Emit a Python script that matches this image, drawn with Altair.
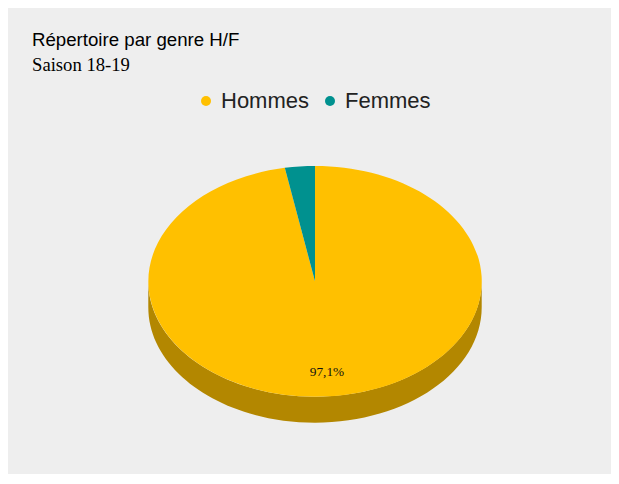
import altair as alt
import pandas as pd

# ---- data ----
title_text = ["Répertoire par genre H/F"]
subtitle_text = ["Saison 18-19"]
genres = ["Hommes", "Femmes"]
shares = [97.1, 2.9]
slice_labels = ["97,1%", ""]
top_colors = ["#FFC000", "#00918F"]
side_colors = ["#B38700", "#006664"]

# ---- layout / style constants ----
W, H = 603, 466
CX, CY = 307, 273.3      # pie centre (px)
RX = 166.7               # horizontal radius (px)
K = 0.692                # vertical / horizontal radius ratio (tilt)
D = 0.156                # side depth relative to RX
LABEL_R = 0.79           # label radius fraction

df = pd.DataFrame({
    "idx": list(range(len(genres))),
    "genre": genres,
    "share": shares,
    "label": slice_labels,
    "side": side_colors,
})


def rnd(e):
    return f"(round(({e})*10000)/10000)"


base = (
    alt.Chart(df)
    .transform_window(cum="sum(share)", sort=[alt.SortField("idx")], frame=[None, 0])
    .transform_joinaggregate(total="sum(share)")
    .transform_calculate(
        t0="2*PI*(datum.cum - datum.share)/datum.total",
        t1="2*PI*datum.cum/datum.total",
    )
)

top_path = (
    "'M0,0 L' + " + rnd("sin(datum.t0)") + " + ',' + " + rnd(f"-{K}*cos(datum.t0)")
    + f" + ' A1,{K} 0 ' + ((datum.t1 - datum.t0) > PI ? 1 : 0) + ',1 ' + "
    + rnd("sin(datum.t1)") + " + ',' + " + rnd(f"-{K}*cos(datum.t1)") + " + ' Z'"
)

side_path = (
    "'M' + " + rnd("sin(datum.a)") + " + ',' + " + rnd(f"-{K}*cos(datum.a)")
    + f" + ' A1,{K} 0 0,1 ' + "
    + rnd("sin(datum.b)") + " + ',' + " + rnd(f"-{K}*cos(datum.b)")
    + " + ' L' + " + rnd("sin(datum.b)") + " + ',' + " + rnd(f"-{K}*cos(datum.b) + {D}")
    + f" + ' A1,{K} 0 0,0 ' + "
    + rnd("sin(datum.a)") + " + ',' + " + rnd(f"-{K}*cos(datum.a) + {D}") + " + ' Z'"
)

size_val = (2 * RX) ** 2

side = (
    base.transform_calculate(a="max(datum.t0, PI/2)", b="min(datum.t1, 3*PI/2)")
    .transform_filter("datum.a < datum.b")
    .transform_calculate(path=side_path)
    .mark_point(filled=True, opacity=1, strokeWidth=0)
    .encode(
        x=alt.value(CX),
        y=alt.value(CY),
        shape=alt.Shape("path:N", scale=None),
        fill=alt.Fill("side:N", scale=None),
        size=alt.value(size_val),
    )
)

top = (
    base.transform_calculate(path=top_path)
    .mark_point(filled=True, opacity=1, strokeWidth=0)
    .encode(
        x=alt.value(CX),
        y=alt.value(CY),
        shape=alt.Shape("path:N", scale=None),
        size=alt.value(size_val),
        color=alt.Color(
            "genre:N",
            scale=alt.Scale(domain=genres, range=top_colors),
            legend=alt.Legend(
                title=None,
                orient="none",
                legendX=187,
                legendY=82,
                direction="horizontal",
                symbolType="circle",
                symbolSize=100,
                symbolStrokeWidth=0,
                labelFont="Liberation Sans",
                labelFontSize=22,
                labelColor="#222222",
                labelOffset=4,
                columnPadding=9,
                padding=0,
            ),
        ),
    )
)

label = (
    base.transform_filter("datum.label != ''")
    .transform_calculate(
        tm="(datum.t0 + datum.t1)/2",
    )
    .transform_calculate(
        lx=f"{CX} + {LABEL_R * RX}*sin(datum.tm)",
        ly=f"{CY} - {LABEL_R * RX * K}*cos(datum.tm)",
    )
    .mark_text(font="Liberation Serif", fontSize=13.33, color="#111111",
               align="center", baseline="middle")
    .encode(
        x=alt.X("lx:Q", scale=None, axis=None),
        y=alt.Y("ly:Q", scale=None, axis=None),
        text="label:N",
    )
)

title = (
    alt.Chart(pd.DataFrame({"t": title_text}))
    .mark_text(font="Liberation Sans", fontSize=18.67, color="#000000",
               align="left", baseline="alphabetic")
    .encode(x=alt.value(24), y=alt.value(38), text="t:N")
)

subtitle = (
    alt.Chart(pd.DataFrame({"t": subtitle_text}))
    .mark_text(font="Liberation Serif", fontSize=18.67, color="#000000",
               align="left", baseline="alphabetic")
    .encode(x=alt.value(24), y=alt.value(63), text="t:N")
)

chart = (
    alt.layer(side, top, label, title, subtitle)
    .properties(width=W, height=H, padding=0, autosize="none", background="#EEEEEE")
    .configure_view(stroke=None)
)

chart.save("out.html", embed_options={"renderer": "svg", "actions": False})
